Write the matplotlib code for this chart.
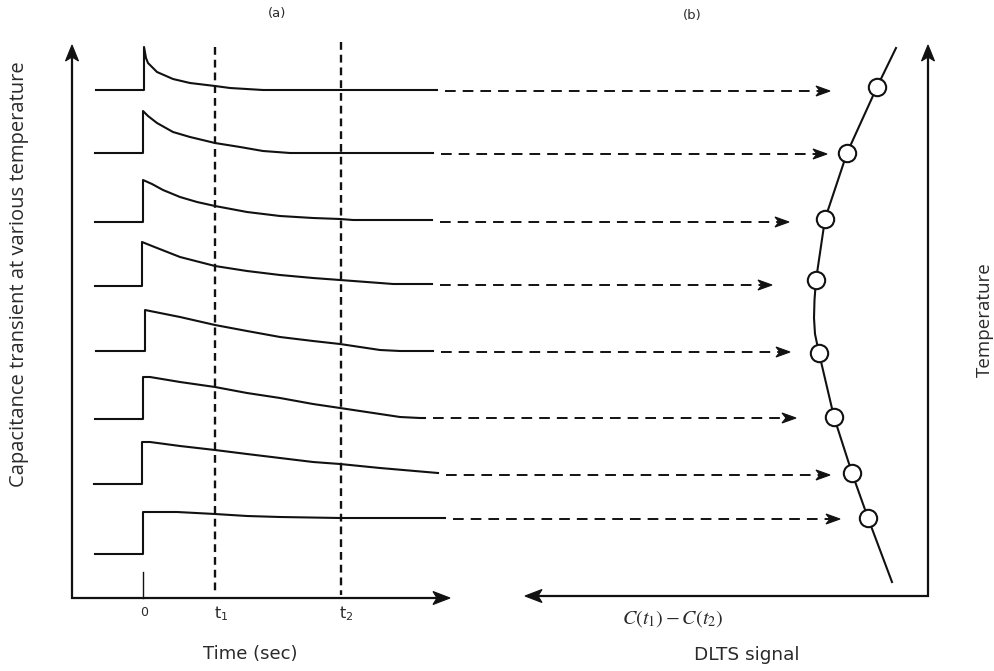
import matplotlib
matplotlib.use('Agg')
import matplotlib.pyplot as plt
from matplotlib.patches import Polygon

# ---------------- data (schematic coordinates) ----------------
curve1_x = [96, 144, 144, 146, 148, 157, 173, 190, 215, 230, 263, 437]
curve1_y = [90, 90, 47, 58, 63, 72, 79, 83, 86, 88, 90, 90]
curve2_x = [95, 143, 143, 148, 157, 173, 190, 215, 240, 263, 290, 310, 433]
curve2_y = [153, 153, 111, 116, 123, 132, 137, 143, 147, 151, 153, 153, 153]
curve3_x = [95, 143, 143, 152, 163, 180, 197, 215, 247, 280, 313, 340, 353, 432]
curve3_y = [222, 222, 180, 184, 190, 197, 202, 206, 212, 216, 218, 219, 220, 220]
curve4_x = [95, 142, 142, 152, 180, 215, 247, 280, 313, 340, 380, 393, 432]
curve4_y = [286, 286, 242, 246, 257, 266, 271, 275, 278, 280, 283, 284, 284]
curve5_x = [96, 145, 145, 150, 180, 215, 247, 280, 313, 340, 380, 400, 433]
curve5_y = [351, 351, 310, 311, 317, 325, 331, 337, 341, 344, 350, 351, 351]
curve6_x = [95, 143, 143, 150, 180, 215, 247, 280, 313, 340, 380, 400, 420, 425]
curve6_y = [419, 419, 377, 377, 382, 387, 393, 398, 404, 408, 414, 417, 418, 418]
curve7_x = [94, 142, 142, 150, 180, 215, 247, 280, 313, 340, 380, 438]
curve7_y = [484, 484, 442, 442, 446, 450, 454, 458, 462, 464, 468, 473]
curve8_x = [95, 143, 143, 177, 215, 247, 280, 340, 445]
curve8_y = [554, 554, 512, 512, 514, 516, 517, 518, 518]

arrow_y = [91, 154, 222, 285, 352, 418, 475, 519]
arrow_tip_x = [830, 827, 789, 772, 790, 796, 830, 840]

dlts_x = [877, 847, 825, 816, 819, 834, 852, 868]
dlts_y = [87, 153, 219, 280, 353, 417, 473, 518]
dlts_line_x = [896, 877, 847, 825, 816, 814.5, 814, 815, 819, 834, 852, 868, 892]
dlts_line_y = [48, 87, 153, 219, 280, 300, 318, 334, 353, 417, 473, 518, 582]

t0_x, t1_x, t2_x = 143, 215, 341
time_tick_labels = ['0', r'$\mathregular{t_1}$', r'$\mathregular{t_2}$']

# ---------------- figure ----------------
W, H = 995, 671
fig = plt.figure(figsize=(9.95, 6.71), dpi=100)
ax = fig.add_axes([0, 0, 1, 1])
ax.set_xlim(0, W)
ax.set_ylim(H, 0)
ax.axis('off')
K = '#111111'
TXT = '#2a2a2a'


def head(tx, ty, direction, length=15, width=12, notch=4):
    dx, dy = direction
    px, py = -dy, dx
    bx, by = tx - dx * length, ty - dy * length
    nx, ny = tx - dx * (length - notch), ty - dy * (length - notch)
    pts = [(tx, ty), (bx + px * width / 2, by + py * width / 2), (nx, ny),
           (bx - px * width / 2, by - py * width / 2)]
    ax.add_patch(Polygon(pts, closed=True, facecolor=K, edgecolor=K, lw=0.8, zorder=5))


# transients
curves = [(curve1_x, curve1_y), (curve2_x, curve2_y), (curve3_x, curve3_y), (curve4_x, curve4_y),
          (curve5_x, curve5_y), (curve6_x, curve6_y), (curve7_x, curve7_y), (curve8_x, curve8_y)]
for cx, cy in curves:
    ax.plot(cx, cy, color=K, lw=1.5, solid_joinstyle='round', zorder=3)

# dashed arrows
for (cx, cy), ay, tip in zip(curves, arrow_y, arrow_tip_x):
    start = cx[-1] + 8
    ax.plot([start, tip - 11], [ay, ay], color=K, lw=1.4, dashes=(5.5, 3.6), zorder=3)
    head(tip, ay, (1, 0), length=14, width=10, notch=4)

# vertical dashed lines at t1, t2
ax.plot([t1_x, t1_x], [47, 595], color=K, lw=1.7, dashes=(3.3, 2.1), zorder=2)
ax.plot([t2_x, t2_x], [42, 595], color=K, lw=1.7, dashes=(3.3, 2.1), zorder=2)

# left axes
ax.plot([72, 72, 436], [50, 598, 598], color=K, lw=1.6, solid_joinstyle='miter', zorder=4)
head(72, 45, (0, -1), length=16, width=13, notch=4)
head(450, 598, (1, 0), length=17, width=13, notch=4)
ax.plot([t0_x, t0_x], [572, 598], color=K, lw=1.0, zorder=4)

# right axes
ax.plot([538, 928, 928], [596, 596, 50], color=K, lw=1.6, solid_joinstyle='miter', zorder=4)
head(928, 45, (0, -1), length=16, width=13, notch=4)
head(525, 596, (-1, 0), length=17, width=13, notch=4)

# DLTS curve and points
ax.plot(dlts_line_x, dlts_line_y, color=K, lw=1.5, solid_joinstyle='round', zorder=3)
ax.plot(dlts_x, dlts_y, linestyle='none', marker='o', markersize=12.5,
        markerfacecolor='white', markeredgecolor=K, markeredgewidth=1.5, zorder=6)

# tick labels
ax.text(t0_x + 1, 612, time_tick_labels[0], ha='center', va='center', fontsize=9,
        color=TXT, family='DejaVu Sans')
ax.text(t1_x + 6, 614, time_tick_labels[1], ha='center', va='center', fontsize=11.5,
        color=TXT, family='DejaVu Sans')
ax.text(t2_x + 5, 614, time_tick_labels[2], ha='center', va='center', fontsize=11.5,
        color=TXT, family='DejaVu Sans')

# labels
ax.text(250, 654, 'Time (sec)', ha='center', va='center', fontsize=13,
        color=TXT, family='DejaVu Sans')
ax.text(747, 655, 'DLTS signal', ha='center', va='center', fontsize=13.3,
        color=TXT, family='DejaVu Sans')
ax.text(673, 619, r'$C(t_1) - C(t_2)$', ha='center', va='center', fontsize=14.5,
        color=TXT, math_fontfamily='stix')
ax.text(277, 14, '(a)', ha='center', va='center', fontsize=9.5, color=TXT, family='DejaVu Sans')
ax.text(692, 15, '(b)', ha='center', va='center', fontsize=9.5, color=TXT, family='DejaVu Sans')
ax.text(19, 274, 'Capacitance transient at various temperature', rotation=90,
        ha='center', va='center', fontsize=14.5, color=TXT, family='Open Sans')
ax.text(985, 320, 'Temperature', rotation=90, ha='center', va='center', fontsize=13.5,
        color=TXT, family='Open Sans')

fig.savefig('out.png', dpi=100)
